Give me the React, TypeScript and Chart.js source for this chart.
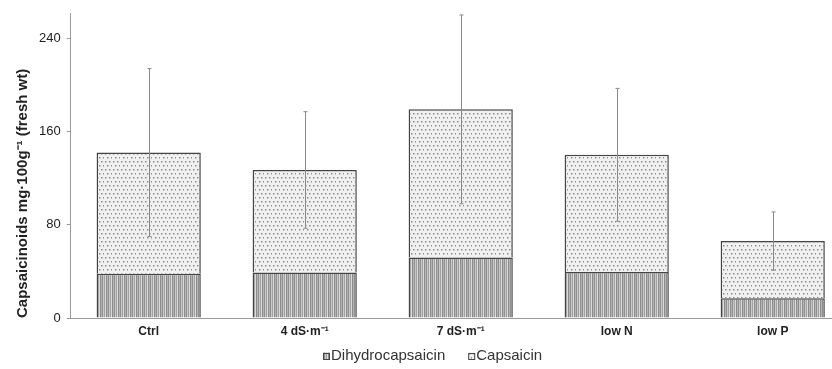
import React, { useEffect, useRef } from "react";
import { Chart, registerables } from "chart.js";

Chart.register(...registerables);

// Capsaicinoid content per treatment (mg·100g⁻¹ fresh weight)
const categories = ["Ctrl", "4 dS·m⁻¹", "7 dS·m⁻¹", "low N", "low P"];
const dihydrocapsaicin = [38, 39, 52, 39.5, 17];
const capsaicin = [104, 88, 127, 100.5, 49];
const totalSD = [72, 50, 81, 57, 25];
const yTicks = [0, 80, 160, 240];

const FONT = "'Liberation Sans', Arial, sans-serif";

function makeStripePattern(): CanvasPattern | string {
  const c = document.createElement("canvas");
  c.width = 6;
  c.height = 4;
  const g = c.getContext("2d");
  if (!g) return "#aaa";
  const cols = ["#909090", "#c8c8c8", "#a0a0a0", "#dcdcdc", "#8c8c8c", "#b4b4b4"];
  cols.forEach((col, i) => {
    g.fillStyle = col;
    g.fillRect(i, 0, 1, 4);
  });
  return g.createPattern(c, "repeat") || "#aaa";
}

function makeDotPattern(): CanvasPattern | string {
  const c = document.createElement("canvas");
  c.width = 8;
  c.height = 8;
  const g = c.getContext("2d");
  if (!g) return "#eee";
  g.fillStyle = "#f0f0f0";
  g.fillRect(0, 0, 8, 8);
  g.fillStyle = "#8e8e8e";
  [[1, 1], [5, 1], [3, 5], [7, 5]].forEach(([x, y]) => g.fillRect(x, y, 1.5, 1.5));
  return g.createPattern(c, "repeat") || "#eee";
}

// Standard deviation of the total, drawn from the top of each stack
const errorBars = {
  id: "errorBars",
  afterDatasetsDraw(chart: any) {
    const { ctx, scales } = chart;
    const xs = scales.x;
    const ys = scales.y;
    ctx.save();
    ctx.strokeStyle = "#8a8a8a";
    ctx.lineWidth = 1;
    categories.forEach((_, i) => {
      const total = dihydrocapsaicin[i] + capsaicin[i];
      const x = Math.round(xs.getPixelForValue(i)) + 0.5;
      const yHi = ys.getPixelForValue(total + totalSD[i]);
      const yLo = ys.getPixelForValue(total - totalSD[i]);
      ctx.beginPath();
      ctx.moveTo(x, yHi);
      ctx.lineTo(x, yLo);
      ctx.moveTo(x - 2, yHi);
      ctx.lineTo(x + 2, yHi);
      ctx.moveTo(x - 2, yLo);
      ctx.lineTo(x + 2, yLo);
      ctx.stroke();
    });
    ctx.restore();
  },
};

// Compact legend under the axis labels, wider gap between the two entries
const bottomLegend = {
  id: "bottomLegend",
  afterDraw(chart: any) {
    const { ctx } = chart;
    const box = 7;
    const textGap = 1;
    const itemGap = 23;
    const y = chart.height - 13;
    ctx.save();
    ctx.font = `15px ${FONT}`;
    ctx.textBaseline = "middle";
    const items = chart.data.datasets.map((ds: any) => ({
      label: ds.label,
      fill: ds.backgroundColor,
      stroke: ds.borderColor,
      w: ctx.measureText(ds.label).width,
    }));
    const total =
      items.reduce((a: number, it: any) => a + box + textGap + it.w, 0) + itemGap * (items.length - 1);
    let x = Math.round(chart.width / 2 + 17 - total / 2);
    items.forEach((it: any) => {
      ctx.fillStyle = it.fill;
      ctx.fillRect(x, y - box / 2, box, box);
      ctx.strokeStyle = it.stroke;
      ctx.lineWidth = 1;
      ctx.strokeRect(x + 0.5, Math.round(y - box / 2) + 0.5, box - 1, box - 1);
      ctx.fillStyle = "#333";
      ctx.fillText(it.label, x + box + textGap, y);
      x += box + textGap + it.w + itemGap;
    });
    ctx.restore();
  },
};

export default function App() {
  const ref = useRef<HTMLCanvasElement | null>(null);

  useEffect(() => {
    if (!ref.current) return;
    const stripes = makeStripePattern();
    const dots = makeDotPattern();
    const chart = new Chart(ref.current, {
      type: "bar",
      data: {
        datasets: [
          {
            label: "Dihydrocapsaicin",
            data: dihydrocapsaicin.map((v, i) => ({ x: i, y: v })),
            backgroundColor: stripes as any,
            borderColor: "#444444",
            borderWidth: 1.5,
            barPercentage: 0.668,
            categoryPercentage: 1,
          },
          {
            label: "Capsaicin",
            data: capsaicin.map((v, i) => ({ x: i, y: v })),
            backgroundColor: dots as any,
            borderColor: "#444444",
            borderWidth: 1.5,
            barPercentage: 0.668,
            categoryPercentage: 1,
          },
        ],
      },
      options: {
        animation: false,
        responsive: false,
        maintainAspectRatio: false,
        layout: { padding: { top: 11, right: 0, left: 14, bottom: 29 } },
        plugins: {
          tooltip: { enabled: false },
          legend: { display: false },
        },
        scales: {
          x: {
            type: "linear",
            stacked: true,
            min: -0.5,
            max: 4.38,
            offset: false,
            grid: { display: false, drawTicks: false },
            border: { display: true, color: "#9a9a9a", width: 1 },
            afterBuildTicks: (s: any) => {
              s.ticks = categories.map((_, i) => ({ value: i }));
            },
            afterFit: (s: any) => {
              s.height = 22;
            },
            ticks: {
              padding: 6,
              autoSkip: false,
              maxRotation: 0,
              color: "#222",
              font: { family: FONT, size: 12, weight: "bold" },
              callback: (v: any) => categories[v as number] ?? "",
            },
          },
          y: {
            stacked: true,
            min: 0,
            max: 261,
            grid: { drawOnChartArea: false, drawTicks: true, tickLength: 4, color: "#9a9a9a" },
            border: { display: true, color: "#9a9a9a", width: 1 },
            afterBuildTicks: (s: any) => {
              s.ticks = yTicks.map((v) => ({ value: v }));
            },
            ticks: {
              padding: 6,
              color: "#222",
              font: { family: FONT, size: 13 },
            },
            title: {
              display: true,
              align: "start",
              text: "Capsaicinoids mg·100g⁻¹ (fresh wt)",
              color: "#222",
              font: { family: FONT, size: 15, weight: "bold" },
              padding: { top: 0, bottom: 1 },
            },
          },
        },
      },
      plugins: [errorBars, bottomLegend],
    });
    return () => chart.destroy();
  }, []);

  return (
    <div style={{ position: "fixed", left: 0, top: 0, width: 832, height: 369, background: "#fff" }}>
      <canvas ref={ref} width={832} height={369} style={{ display: "block" }} />
    </div>
  );
}
